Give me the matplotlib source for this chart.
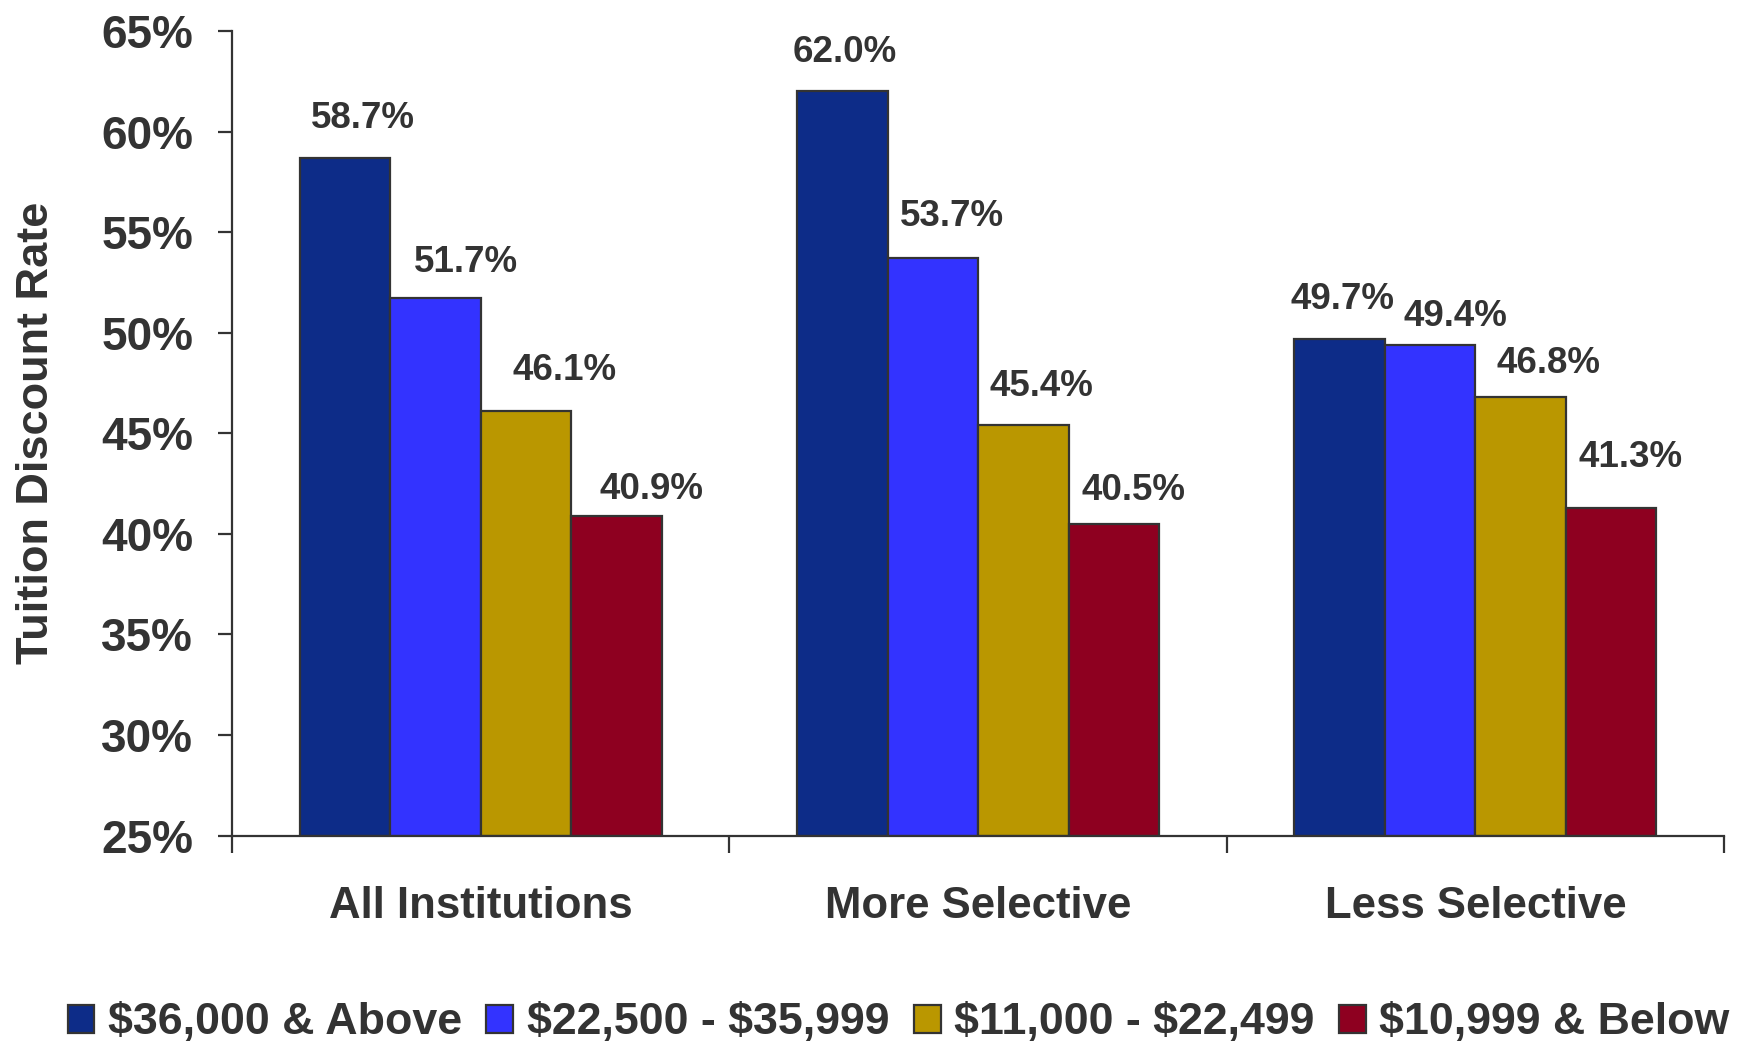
import matplotlib.pyplot as plt
import numpy as np

plt.rcParams['font.family'] = ['Liberation Sans', 'DejaVu Sans']
plt.rcParams['font.weight'] = 'bold'

categories = ['All Institutions', 'More Selective', 'Less Selective']
series = [r'\$36,000 & Above', r'\$22,500 - \$35,999', r'\$11,000 - \$22,499', r'\$10,999 & Below']
rates = [
    [58.7, 62.0, 49.7],
    [51.7, 53.7, 49.4],
    [46.1, 45.4, 46.8],
    [40.9, 40.5, 41.3],
]
colors = ['#0d2c88', '#3333ff', '#ba9700', '#8e0020']
# nudges for the value labels (points, relative to bar top centre)
label_dx = [[13, 2, 2], [22, 14, 18], [28, 13, 20], [25, 14, 14]]
label_dy = [[28, 28, 28], [26, 30, 20], [29, 28, 24], [19, 24, 36]]

grey = '#333333'

fig = plt.figure(figsize=(17.42, 10.46), dpi=100)
ax = fig.add_axes([0.1332, 0.2012, 0.8565, 0.7692])

x = np.arange(len(categories))
w = 0.182
for i, s in enumerate(series):
    pos = x + (i - 1.5) * w
    bars = ax.bar(pos, np.array(rates[i]) - 25, width=w, bottom=25,
                  color=colors[i], edgecolor=grey, linewidth=1.6, label=s)
    for j, v in enumerate(rates[i]):
        ax.annotate('%.1f%%' % v, (pos[j], v), xytext=(label_dx[i][j], label_dy[i][j]),
                    textcoords='offset points', ha='center', va='center',
                    fontsize=26.5, fontweight='bold', color=grey)

ax.set_xlim(-0.5, 2.5)
ax.set_ylim(25, 65)
ax.set_yticks(np.arange(25, 66, 5))
ax.set_yticklabels(['%d%%' % t for t in range(25, 66, 5)])

# group separators as major ticks, names as minor ticks
ax.set_xticks([-0.5, 0.5, 1.5, 2.5])
ax.set_xticklabels([])
ax.set_xticks(x, minor=True)
ax.set_xticklabels(categories, minor=True)
ax.tick_params(axis='x', which='major', length=12, width=1.6, color=grey)
ax.tick_params(axis='x', which='minor', length=0, pad=36, labelsize=31.5, labelcolor=grey)
ax.tick_params(axis='y', length=10, width=1.6, color=grey, pad=18, labelsize=33, labelcolor=grey)

for sp in ['top', 'right']:
    ax.spines[sp].set_visible(False)
for sp in ['left', 'bottom']:
    ax.spines[sp].set_color(grey)
    ax.spines[sp].set_linewidth(1.6)

ax.set_ylabel('Tuition Discount Rate', fontsize=32.5, fontweight='bold', color=grey, labelpad=32)

fig.legend(loc='center', bbox_to_anchor=(0.5158, 0.022), ncol=4, frameon=False,
           fontsize=32.2, handlelength=0.6, handleheight=0.6, handletextpad=0.3,
           columnspacing=0.55, labelcolor=grey, borderaxespad=0)

fig.savefig('out.png', dpi=100)
